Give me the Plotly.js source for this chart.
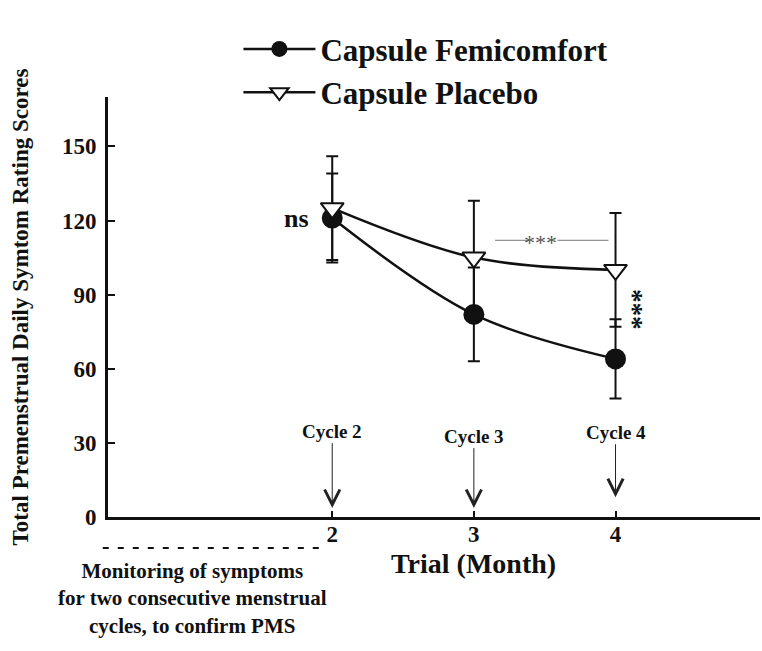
<!DOCTYPE html>
<html>
<head>
<meta charset="utf-8">
<script src="https://cdn.plot.ly/plotly-3.0.1.min.js"></script>
<style>
  html, body { margin: 0; padding: 0; background: #fff; }
  #myDiv { width: 762px; height: 651px; }
</style>
</head>
<body>
<div id="myDiv"></div>
<script>
var months = [2, 3, 4];

var femiScores = [121, 82, 64];
var femiErr = [18, 19, 16];

var placeboScores = [125, 105, 100];
var placeboErr = [21, 23, 23];

var yTicks = [0, 30, 60, 90, 120, 150];

var cycleLabels = ["Cycle 2", "Cycle 3", "Cycle 4"];
var cycleTips = [3.6, 3.6, 8];
var cycleOffsets = [-77, -72, -65];

var serif = "Liberation Serif, Times New Roman, serif";

var femi = {
  x: months,
  y: femiScores,
  error_y: {type: "data", array: femiErr, visible: true, color: "#111", thickness: 2, width: 6},
  mode: "lines+markers",
  line: {color: "#111", width: 2.5, shape: "spline"},
  marker: {symbol: "circle", size: 21, color: "#111"},
  name: "Capsule Femicomfort",
  legendgroup: "a",
  type: "scatter"
};

var placebo = {
  x: months,
  y: placeboScores,
  error_y: {type: "data", array: placeboErr, visible: true, color: "#111", thickness: 2, width: 6},
  mode: "lines+markers",
  line: {color: "#111", width: 2.5, shape: "spline"},
  marker: {symbol: "triangle-down", size: 20, color: "#fff", line: {color: "#111", width: 2}},
  name: "Capsule Placebo",
  legendgroup: "b",
  type: "scatter"
};

var annotations = [];
cycleLabels.forEach(function(t, i) {
  annotations.push({
    x: months[i], y: cycleTips[i], xref: "x", yref: "y",
    text: "<b>" + t + "</b>",
    showarrow: true, arrowhead: 5, arrowsize: 3, arrowwidth: 1, arrowcolor: "#222",
    ax: 0, ay: cycleOffsets[i],
    font: {family: serif, size: 19, color: "#111"}
  });
});

annotations.push({x: 1.75, y: 121, xref: "x", yref: "y", text: "<b>ns</b>", showarrow: false,
  font: {family: serif, size: 26, color: "#111"}});
annotations.push({x: 3.47, y: 111, xref: "x", yref: "y", text: "***", showarrow: false,
  font: {family: serif, size: 22, color: "#555"}});
annotations.push({x: 4.12, y: 84, xref: "x", yref: "y", text: "<b>***</b>", showarrow: false,
  textangle: 90, font: {family: serif, size: 27, color: "#111"}});
annotations.push({x: 3, y: -0.11, xref: "x", yref: "paper", xanchor: "center", yanchor: "middle",
  text: "<b>Trial (Month)</b>", showarrow: false,
  font: {family: serif, size: 28, color: "#111"}});
annotations.push({x: 0.13, y: -0.195, xref: "paper", yref: "paper", xanchor: "center", yanchor: "middle",
  text: "<b>Monitoring of symptoms<br>for two consecutive menstrual<br>cycles, to confirm PMS</b>",
  showarrow: false, align: "center",
  font: {family: serif, size: 21, color: "#111"}});

var shapes = [
  {type: "line", xref: "x", yref: "y", x0: 3.15, x1: 3.40, y0: 112, y1: 112, line: {color: "#777", width: 1}},
  {type: "line", xref: "x", yref: "y", x0: 3.59, x1: 3.95, y0: 112, y1: 112, line: {color: "#777", width: 1}},
  {type: "line", xref: "paper", yref: "paper", x0: -0.008, x1: 0.333, y0: -0.074, y1: -0.074,
    line: {color: "#111", width: 2, dash: "6px,9px"}}
];

var layout = {
  width: 762,
  height: 651,
  paper_bgcolor: "#fff",
  plot_bgcolor: "#fff",
  margin: {l: 108, r: 2, t: 97, b: 134},
  font: {family: serif, color: "#111"},
  showlegend: true,
  legend: {
    x: 0.2, y: 1.178, xanchor: "left", yanchor: "top",
    bgcolor: "rgba(0,0,0,0)",
    font: {family: serif, size: 31, color: "#111", weight: "bold"},
    traceorder: "grouped", tracegroupgap: 0,
    itemwidth: 72
  },
  xaxis: {
    range: [0.417, 5.02],
    tickvals: months,
    ticktext: months.map(String),
    ticks: "inside", ticklen: 6, tickwidth: 2, tickcolor: "#111",
    showline: true, linewidth: 3, linecolor: "#111",
    showgrid: false, zeroline: false,
    ticklabelstandoff: -6,
    tickfont: {family: serif, size: 23, color: "#111", weight: "bold"}
  },
  yaxis: {
    range: [0, 170],
    tickvals: yTicks,
    ticks: "inside", ticklen: 7, tickwidth: 2, tickcolor: "#111",
    showline: true, linewidth: 3, linecolor: "#111",
    showgrid: false, zeroline: false,
    ticklabelstandoff: 4,
    tickfont: {family: serif, size: 23, color: "#111", weight: "bold"},
    title: {text: "<b>Total Premenstrual Daily Symtom Rating Scores</b>", standoff: 27,
      font: {family: serif, size: 23, color: "#111"}}
  },
  annotations: annotations,
  shapes: shapes
};

Plotly.newPlot("myDiv", [femi, placebo], layout, {displayModeBar: false});
</script>
</body>
</html>
